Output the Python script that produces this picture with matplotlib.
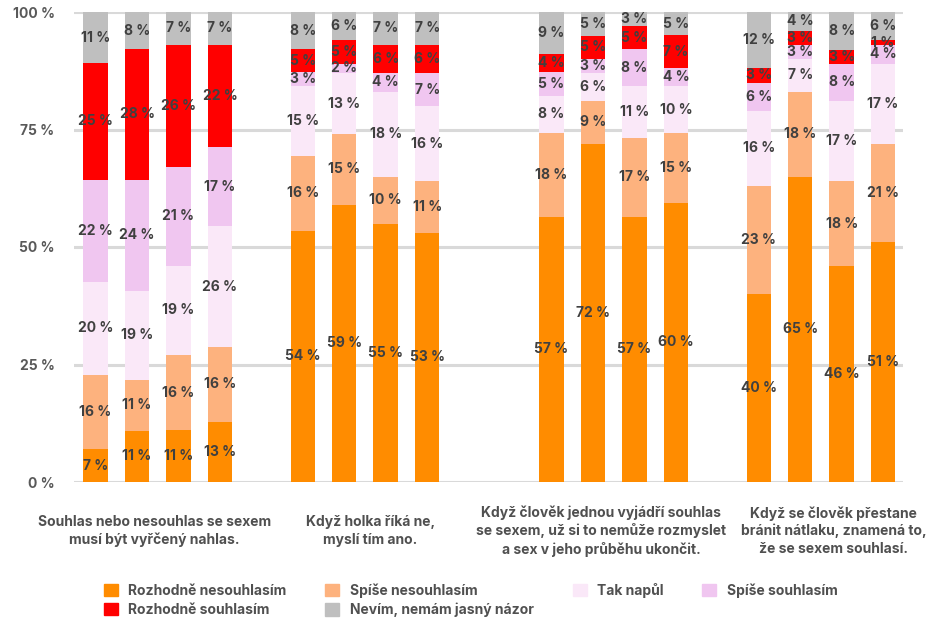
import numpy as np
import matplotlib.pyplot as plt
from matplotlib.patches import Patch

plt.rcParams['font.family'] = ['Inter', 'DejaVu Sans']
plt.rcParams['font.weight'] = 'bold'

#%% data (percent)
statements = ['Souhlas nebo nesouhlas se sexem\nmusí být vyřčený nahlas.',
              'Když holka říká ne,\nmyslí tím ano.',
              'Když člověk jednou vyjádří souhlas\nse sexem, už si to nemůže rozmyslet\na sex v jeho průběhu ukončit.',
              'Když se člověk přestane\nbránit nátlaku, znamená to,\nže se sexem souhlasí.']

answers = ['Rozhodně nesouhlasím', 'Spíše nesouhlasím', 'Tak napůl',
           'Spíše souhlasím', 'Rozhodně souhlasím', 'Nevím, nemám jasný názor']

# 16 bars (4 per statement), one list per answer
rozhodne_ne = [7, 11, 11, 13, 54, 59, 55, 53, 57, 72, 57, 60, 40, 65, 46, 51]
spise_ne    = [16, 11, 16, 16, 16, 15, 10, 11, 18, 9, 17, 15, 23, 18, 18, 21]
tak_napul   = [20, 19, 19, 26, 15, 13, 18, 16, 8, 6, 11, 10, 16, 7, 17, 17]
spise_ano   = [22, 24, 21, 17, 3, 2, 4, 7, 5, 3, 8, 4, 6, 3, 8, 4]
rozhodne_ano = [25, 28, 26, 22, 5, 5, 6, 6, 4, 5, 5, 7, 3, 3, 3, 1]
nevim       = [11, 8, 7, 7, 8, 6, 7, 7, 9, 5, 3, 5, 12, 4, 8, 6]

colors = ['#FF8C00', '#FDB27E', '#FAE8F8', '#F0C6F0', '#FF0000', '#BFBFBF']
yticks = [0, 25, 50, 75, 100]

#%%
vals = np.array([rozhodne_ne, spise_ne, tak_napul, spise_ano, rozhodne_ano, nevim], dtype=float)
shares = vals / vals.sum(axis=0) * 100   # rounded values -> stack to 100

# bar slots: 4 bars per group, gaps between groups
x = np.array([0, 1, 2, 3, 5, 6, 7, 8, 11, 12, 13, 14, 16, 17, 18, 19])
label_x = [1.42, 6.63, 12.2, 17.8]

fig = plt.figure(figsize=(9.29, 6.22), dpi=100)
ax = fig.add_axes([74/929, 1-482/622, (903-74)/929, 470/622])

txt_col = '#404040'
bottom = np.zeros(len(x))
for k in range(len(answers)):
    ax.bar(x, shares[k], bottom=bottom, width=0.59, color=colors[k], zorder=2)
    for xi, b, h, v in zip(x, bottom, shares[k], vals[k]):
        ax.text(xi, b + h/2, '%d %%' % v, ha='center', va='center',
                fontsize=10, color=txt_col, fontweight='bold', zorder=3)
    bottom += shares[k]

ax.set_xlim(-0.52, 19.48)
ax.set_ylim(0, 100)
ax.set_yticks(yticks)
ax.set_yticklabels(['%d %%' % t for t in yticks], fontsize=10, color='#595959')
ax.tick_params(axis='y', length=0, pad=14)
ax.set_xticks([])
for s in ax.spines.values():
    s.set_visible(False)
ax.grid(axis='y', color='#D9D9D9', linewidth=2.2, zorder=0)
ax.set_axisbelow(True)

for lx, s in zip(label_x, statements):
    ax.text(lx, -0.104, s, transform=ax.get_xaxis_transform(), ha='center',
            va='center', fontsize=10, color='#505050', linespacing=1.3,
            fontweight='bold')

handles = [Patch(color=c, label=a) for c, a in zip(colors, answers)]
order = [0, 4, 1, 5, 2, 3]
fig.legend([handles[i] for i in order], [answers[i] for i in order],
           ncol=4, loc='upper left', bbox_to_anchor=(104/929, 1-583/622),
           frameon=False, fontsize=10, handlelength=1.0, handleheight=1.0,
           handletextpad=0.75, columnspacing=2.8, labelspacing=0.35,
           borderpad=0, borderaxespad=0, labelcolor='#505050')

fig.savefig('out.png', dpi=100)
